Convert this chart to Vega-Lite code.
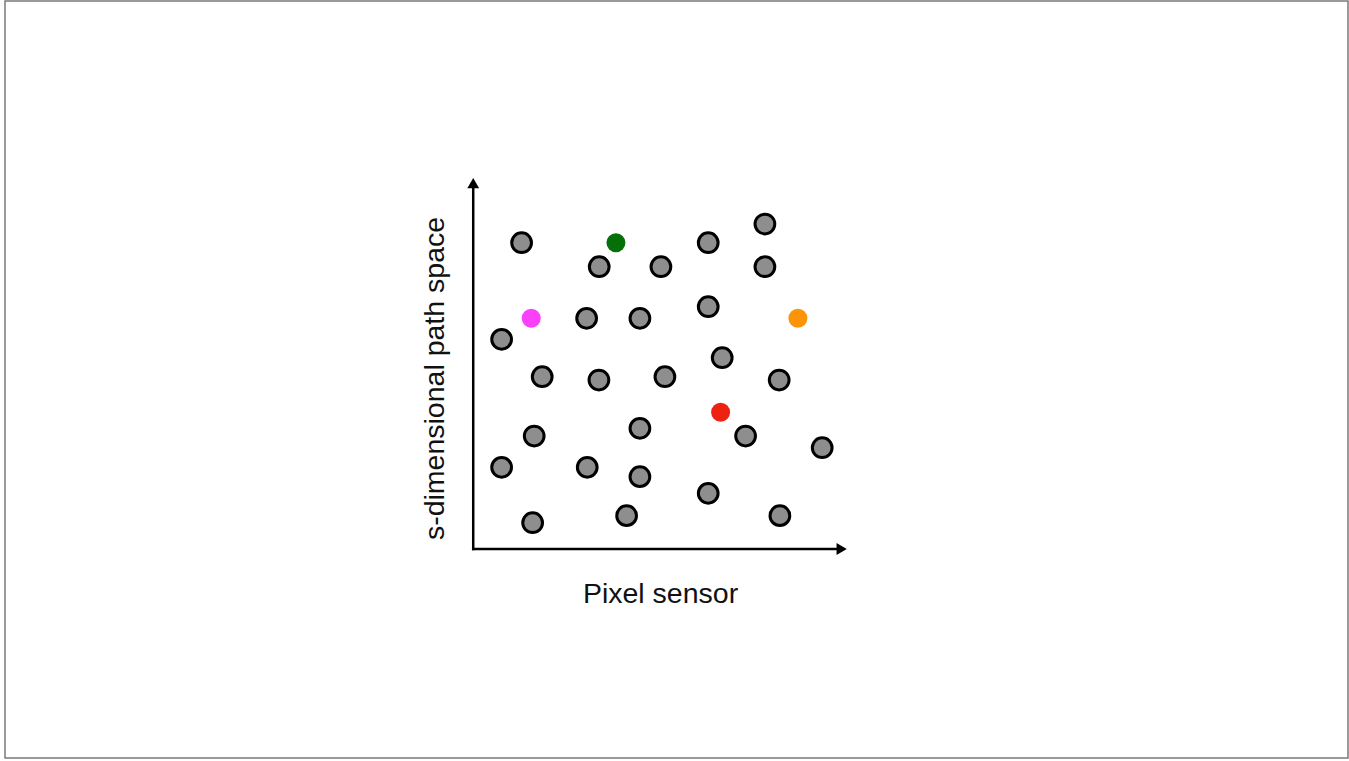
{
  "$schema": "https://vega.github.io/schema/vega-lite/v6.json",
  "width": 1349,
  "height": 761,
  "autosize": {"type": "fit", "contains": "padding"},
  "padding": {"left": 5, "top": 1, "right": 1, "bottom": 3},
  "background": "white",
  "config": {
    "view": {"stroke": "#7a7a7a", "strokeWidth": 1.5},
    "font": "Liberation Sans"
  },
  "datasets": {
    "points": [
      {"x": 1.295, "y": 8.256, "kind": "sample"},
      {"x": 3.372, "y": 7.609, "kind": "sample"},
      {"x": 5.023, "y": 7.609, "kind": "sample"},
      {"x": 6.289, "y": 8.256, "kind": "sample"},
      {"x": 7.806, "y": 8.760, "kind": "sample"},
      {"x": 7.806, "y": 7.609, "kind": "sample"},
      {"x": 3.035, "y": 6.218, "kind": "sample"},
      {"x": 4.461, "y": 6.218, "kind": "sample"},
      {"x": 6.289, "y": 6.531, "kind": "sample"},
      {"x": 0.760, "y": 5.652, "kind": "sample"},
      {"x": 1.846, "y": 4.644, "kind": "sample"},
      {"x": 3.364, "y": 4.555, "kind": "sample"},
      {"x": 5.130, "y": 4.644, "kind": "sample"},
      {"x": 6.663, "y": 5.156, "kind": "sample"},
      {"x": 8.188, "y": 4.555, "kind": "sample"},
      {"x": 1.632, "y": 3.046, "kind": "sample"},
      {"x": 4.461, "y": 3.253, "kind": "sample"},
      {"x": 7.289, "y": 3.046, "kind": "sample"},
      {"x": 9.339, "y": 2.730, "kind": "sample"},
      {"x": 0.760, "y": 2.202, "kind": "sample"},
      {"x": 3.051, "y": 2.202, "kind": "sample"},
      {"x": 4.461, "y": 1.949, "kind": "sample"},
      {"x": 6.289, "y": 1.501, "kind": "sample"},
      {"x": 1.590, "y": 0.709, "kind": "sample"},
      {"x": 4.105, "y": 0.898, "kind": "sample"},
      {"x": 8.207, "y": 0.898, "kind": "sample"},
      {"x": 3.819, "y": 8.256, "kind": "green"},
      {"x": 1.552, "y": 6.218, "kind": "magenta"},
      {"x": 8.689, "y": 6.218, "kind": "orange"},
      {"x": 6.620, "y": 3.685, "kind": "red"}
    ],
    "axes": [
      {"x": 0, "y": 0, "x2": 9.86, "y2": 0},
      {"x": 0, "y": 0, "x2": 0, "y2": 9.86}
    ],
    "arrows": [
      {"dir": "right", "x": 9.86, "y": 0},
      {"dir": "up", "x": 0, "y": 9.86}
    ]
  },
  "encoding": {
    "x": {
      "field": "x",
      "type": "quantitative",
      "scale": {"domain": [-12.53, 23.41], "nice": false, "zero": false},
      "axis": {
        "title": "Pixel sensor",
        "domain": false, "ticks": false, "labels": false, "grid": false,
        "titleFont": "Liberation Sans", "titleFontSize": 28.5, "titleFontWeight": "normal", "titleColor": "#111111",
        "titleX": 655, "titleY": -156, "titleBaseline": "alphabetic", "titleAlign": "center"
      }
    },
    "y": {
      "field": "y",
      "type": "quantitative",
      "scale": {"domain": [-5.633, 14.771], "nice": false, "zero": false},
      "axis": {
        "title": "s-dimensional path space",
        "domain": false, "ticks": false, "labels": false, "grid": false,
        "titleFont": "Liberation Sans", "titleFontSize": 28.5, "titleFontWeight": "normal", "titleColor": "#111111",
        "titleX": 438, "titleY": 377, "titleAngle": 270, "titleBaseline": "alphabetic", "titleAlign": "center"
      }
    }
  },
  "layer": [
    {
      "data": {"name": "axes"},
      "mark": {"type": "rule", "color": "black", "strokeWidth": 2.5, "strokeCap": "square"},
      "encoding": {"x2": {"field": "x2"}, "y2": {"field": "y2"}}
    },
    {
      "data": {"name": "arrows"},
      "mark": {"type": "point", "filled": true, "color": "black", "size": 140, "opacity": 1},
      "encoding": {
        "shape": {
          "field": "dir", "type": "nominal",
          "scale": {"domain": ["right", "up"], "range": ["triangle-right", "triangle-up"]},
          "legend": null
        }
      }
    },
    {
      "data": {"name": "points"},
      "transform": [{"filter": "datum.kind === 'sample'"}],
      "mark": {"type": "circle", "fill": "#8e8e8e", "stroke": "black", "strokeWidth": 3, "size": 390, "opacity": 1}
    },
    {
      "data": {"name": "points"},
      "transform": [{"filter": "datum.kind !== 'sample'"}],
      "mark": {"type": "circle", "size": 360, "opacity": 1},
      "encoding": {
        "color": {
          "field": "kind", "type": "nominal",
          "scale": {"domain": ["green", "magenta", "orange", "red"], "range": ["#05700a", "#fb40fb", "#fd9306", "#ee2213"]},
          "legend": null
        }
      }
    }
  ]
}
